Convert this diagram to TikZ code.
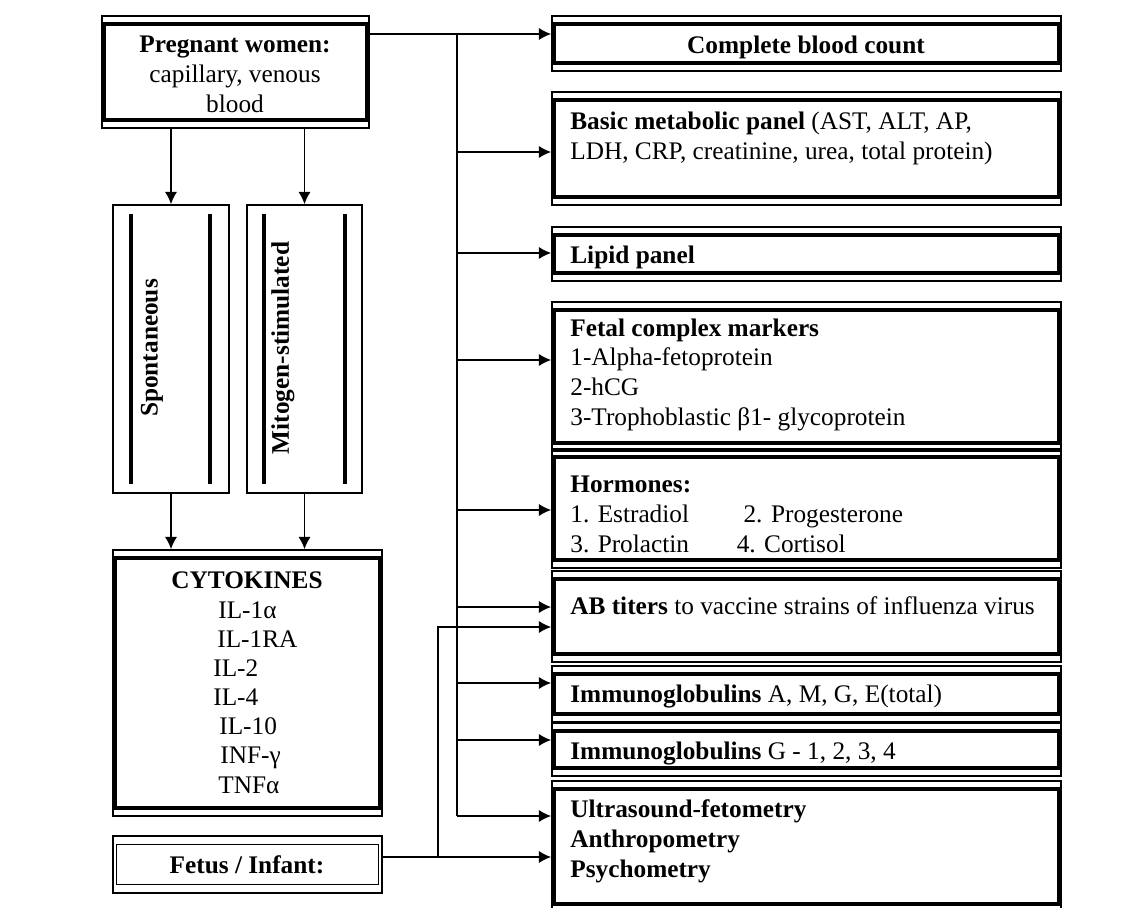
\documentclass[tikz,border=0pt]{standalone}
\usepackage{fontspec}
\setmainfont{Liberation Serif}
\usetikzlibrary{positioning,fit,arrows.meta}

\tikzset{
  outerbox/.style={draw, line width=0.9pt, inner sep=0pt},
  heavy/.style={line width=2.2pt},
  txt/.style={inner sep=0pt, font=\fontsize{14.4}{16.8}\selectfont},
  txtb/.style={inner sep=0pt, font=\fontsize{14.4}{16.8}\selectfont\bfseries},
  flow/.style={line width=1pt},
  flowarrow/.style={line width=1pt, -{Latex[length=7pt,width=7pt]}},
}
\newcommand{\innerpanel}[1]{\draw[heavy] ([shift={(3,9)}]#1.north west) rectangle ([shift={(-3,-9)}]#1.south east);}

\begin{document}
\begin{tikzpicture}[x=0.02cm, y=-0.02cm]
\useasboundingbox (0,0) rectangle (1140,907);

% left column (multi-line texts sit on their last line)
\node[outerbox, fit={(102,16) (369,128)}] (preg) {};
\innerpanel{preg}
\node[txt, anchor=base, align=center] (pregtxt) at (235,112) {\textbf{Pregnant women:}\\capillary, venous\\blood};

\node[outerbox, fit={(113,205) (229,493)}] (spon) {};
\node[outerbox, fit={(247,205) (362,493)}] (mito) {};
\draw[heavy] (131,214) -- (131,484);
\draw[heavy] (210,214) -- (210,484);
\draw[heavy] (264,214) -- (264,484);
\draw[heavy] (345,214) -- (345,484);
\node[txtb, rotate=90] (spontxt) at (152,348) {Spontaneous};
\node[txtb, rotate=90] (mitotxt) at (283,348) {Mitogen-stimulated};

\node[outerbox, fit={(113,550) (382,816)}] (cyto) {};
\innerpanel{cyto}
\node[txtb, anchor=base] (cyt0) at (247,588) {CYTOKINES};
\node[txt, anchor=base west] (cyt1) at (218,618) {IL-1α};
\node[txt, anchor=base west] (cyt2) at (217,647) {IL-1RA};
\node[txt, anchor=base west] (cyt3) at (213,676) {IL-2};
\node[txt, anchor=base west] (cyt4) at (213,705) {IL-4};
\node[txt, anchor=base west] (cyt5) at (219,734) {IL-10};
\node[txt, anchor=base west] (cyt6) at (220,763) {INF-γ};
\node[txt, anchor=base west] (cyt7) at (218,793) {TNFα};

\node[outerbox, fit={(113,836) (382,893)}] (fet) {};
\draw[line width=0.6pt] ([shift={(4,9)}]fet.north west) rectangle ([shift={(-4,-9)}]fet.south east);
\node[txtb, anchor=base] (fettxt) at (247,873) {Fetus / Infant:};

\draw[flowarrow] (spon.north |- preg.south) -- (spon.north);
\draw[flowarrow] (mito.north |- preg.south) -- (mito.north);
\draw[flowarrow] (spon.south) -- (spon.south |- cyto.north);
\draw[flowarrow] (mito.south) -- (mito.south |- cyto.north);

% right column
\node[outerbox, fit={(552,16) (1061,71)}] (cbc) {};
\node[outerbox, fit={(552,92) (1061,205)}] (bmp) {};
\node[outerbox, fit={(552,227) (1061,281)}] (lip) {};
\node[outerbox, fit={(552,302) (1061,451)}] (fcm) {};
\node[outerbox, fit={(552,449) (1061,568)}] (hor) {};
\node[outerbox, fit={(552,571) (1061,662)}] (ab) {};
\node[outerbox, fit={(552,666) (1061,722)}] (iga) {};
\node[outerbox, fit={(552,723) (1061,776)}] (igg) {};
\node[outerbox, fit={(552,781) (1061,912)}] (us) {};
\innerpanel{cbc}
\innerpanel{bmp}
\innerpanel{lip}
\innerpanel{fcm}
\innerpanel{hor}
\innerpanel{ab}
\innerpanel{iga}
\innerpanel{igg}
\innerpanel{us}

\node[txtb, anchor=base] (cbctxt) at (806,53) {Complete blood count};
\node[txt, anchor=base west, align=left] (bmptxt) at (570,159) {\textbf{Basic metabolic panel} (AST, ALT, AP,\\LDH, CRP, creatinine, urea, total protein)};
\node[txtb, anchor=base west] (liptxt) at (570,263) {Lipid panel};
\node[txt, anchor=base west, align=left] (fcmtxt) at (570,425) {\textbf{Fetal complex markers}\\1-Alpha-fetoprotein\\2-hCG\\3-Trophoblastic β1- glycoprotein};
\node[txt, anchor=base west, align=left] (hortxt) at (570,552) {\textbf{Hormones:}\\\makebox[98.6pt][l]{1. Estradiol}2. Progesterone\\\makebox[94.7pt][l]{3. Prolactin}4. Cortisol};
\node[txt, anchor=base west] (abtxt) at (570,614) {\textbf{AB titers} to vaccine strains of influenza virus};
\node[txt, anchor=base west] (igatxt) at (570,702) {\textbf{Immunoglobulins} A, M, G, E(total)};
\node[txt, anchor=base west] (iggtxt) at (570,759) {\textbf{Immunoglobulins} G - 1, 2, 3, 4};
\node[txtb, anchor=base west, align=left] (ustxt) at (570,877) {Ultrasound-fetometry\\Anthropometry\\Psychometry};

% trunk from pregnant women
\def\tx{457}
\coordinate (t0) at (\tx,34);
\coordinate (t1) at (\tx,152);
\coordinate (t2) at (\tx,253);
\coordinate (t3) at (\tx,360);
\coordinate (t4) at (\tx,510);
\coordinate (t5) at (\tx,607);
\coordinate (t6) at (\tx,683);
\coordinate (t7) at (\tx,740);
\coordinate (t8) at (\tx,816);
\draw[flow] (preg.east |- t0) -- (t0) -- (t8);
\draw[flowarrow] (t0) -- (cbc.west |- t0);
\draw[flowarrow] (t1) -- (bmp.west |- t1);
\draw[flowarrow] (t2) -- (lip.west |- t2);
\draw[flowarrow] (t3) -- (fcm.west |- t3);
\draw[flowarrow] (t4) -- (hor.west |- t4);
\draw[flowarrow] (t5) -- (ab.west |- t5);
\draw[flowarrow] (t6) -- (iga.west |- t6);
\draw[flowarrow] (t7) -- (igg.west |- t7);
\draw[flowarrow] (t8) -- (us.west |- t8);

% fetus / infant
\coordinate (f0) at (438,857);
\coordinate (f1) at (438,627);
\draw[flowarrow] (fet.east |- f0) -- (us.west |- f0);
\draw[flowarrow] (f0) -- (f1) -- (ab.west |- f1);

\end{tikzpicture}
\end{document}
